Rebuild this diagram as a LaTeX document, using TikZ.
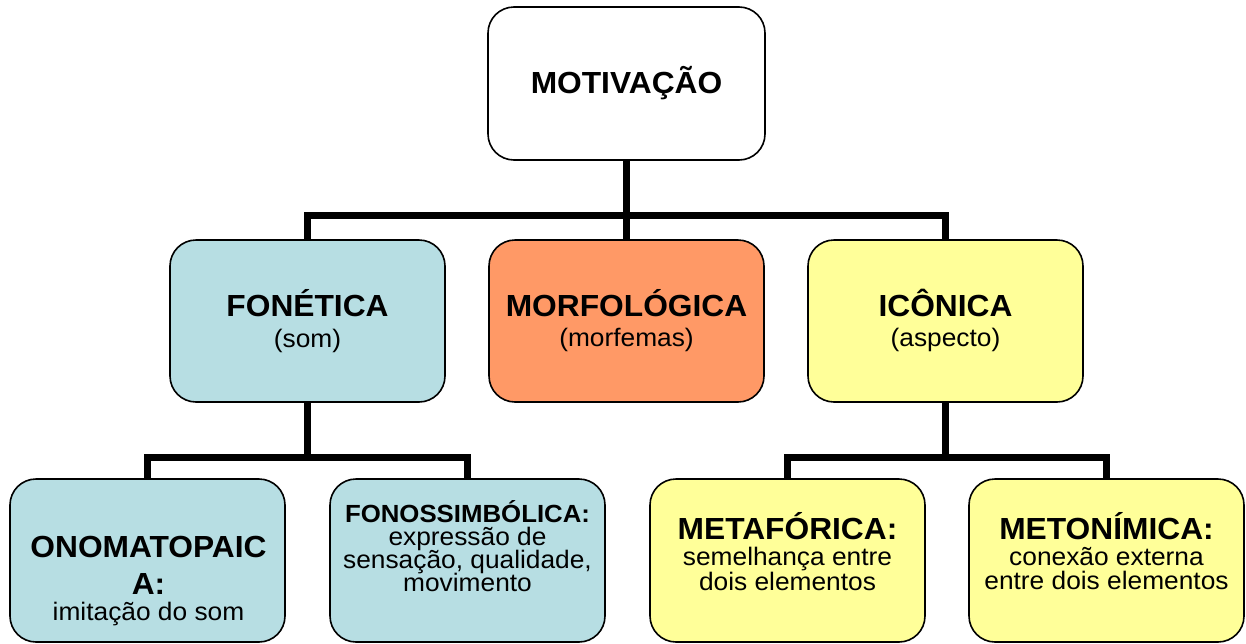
\documentclass[tikz,border=0pt]{standalone}
\usepackage{fontspec}
\setmainfont{Liberation Sans}[FakeStretch=1.04]
\definecolor{cblue}{HTML}{B7DEE3}
\definecolor{corange}{HTML}{FF9966}
\definecolor{cyellow}{HTML}{FFFF99}
\begin{document}
\begin{tikzpicture}[x=1pt,y=-1pt,
  box/.style={draw=black, line width=1.6pt, rounded corners=26pt, inner sep=0pt},
  topbox/.style={box, fill=white, minimum width=277pt, minimum height=153pt},
  midbox/.style={box, minimum width=275pt, minimum height=162pt},
  lowbox/.style={box, minimum width=275pt, minimum height=163pt},
  conn/.style={line width=7pt, draw=black},
  txt/.style={anchor=base, inner sep=0pt, text=black},
  hd/.style={txt, font=\fontsize{30.5}{31}\selectfont\bfseries},
  hds/.style={txt, font=\fontsize{24.8}{25}\selectfont\bfseries},
  rg/.style={txt, font=\fontsize{25.3}{26}\selectfont}]
\useasboundingbox (0,0) rectangle (1246,643);
\fill[white] (0,0) rectangle (1246,643);

% boxes
\node[topbox] (mot) at (626.5,83.5) {};
\node[midbox, fill=cblue] (fon) at (307.5,321) {};
\node[midbox, fill=corange] (morf) at (626.5,321) {};
\node[midbox, fill=cyellow] (icon) at (945.5,321) {};
\node[lowbox, fill=cblue] (ono) at (147.5,560.5) {};
\node[lowbox, fill=cblue] (fonos) at (467.5,560.5) {};
\node[lowbox, fill=cyellow] (metaf) at (787.5,560.5) {};
\node[lowbox, fill=cyellow] (meton) at (1106.5,560.5) {};

% connectors
\coordinate (j1) at (626.5,215);
\coordinate (j2) at (307.5,457);
\coordinate (j3) at (945.5,457);
\draw[conn] (mot.south) -- (morf.north);
\draw[conn] (fon.north) |- (j1) -| (icon.north);
\draw[conn] (fon.south) -- (j2);
\draw[conn] (ono.north) |- (j2) -| (fonos.north);
\draw[conn] (icon.south) -- (j3);
\draw[conn] (metaf.north) |- (j3) -| (meton.north);

% texts
\node[hd] (motA) at (626.5,93) {MOTIVAÇÃO};

\node[hd] (fonA) at (307.5,316) {FONÉTICA};
\node[rg] (fonB) at (307.5,347) {(som)};

\node[hd] (morfA) at (626.5,316) {MORFOLÓGICA};
\node[rg] (morfB) at (626.5,346) {(morfemas)};

\node[hd] (iconA) at (945.5,316) {ICÔNICA};
\node[rg] (iconB) at (945.5,346) {(aspecto)};

\node[hd] (onoA) at (148.5,557) {ONOMATOPAIC};
\node[hd] (onoB) at (148.5,594) {A:};
\node[rg] (onoC) at (148.5,620) {imitação do som};

\node[hds] (fonosA) at (467.5,522) {FONOSSIMBÓLICA:};
\node[rg] (fonosB) at (467.5,545) {expressão de};
\node[rg] (fonosC) at (467.5,568) {sensação, qualidade,};
\node[rg] (fonosD) at (467.5,591) {movimento};

\node[hd] (metafA) at (787.5,539) {METAFÓRICA:};
\node[rg] (metafB) at (787.5,565) {semelhança entre};
\node[rg] (metafC) at (787.5,590) {dois elementos};

\node[hd] (metonA) at (1106.5,539) {METONÍMICA:};
\node[rg] (metonB) at (1106.5,565) {conexão externa};
\node[rg] (metonC) at (1106.5,589) {entre dois elementos};
\end{tikzpicture}
\end{document}
